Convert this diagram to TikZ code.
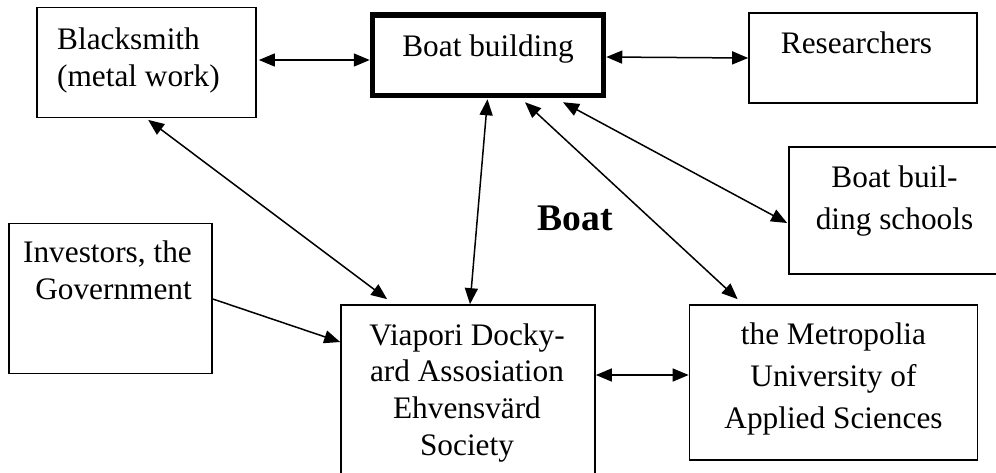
\documentclass[tikz,border=0pt]{standalone}
\usepackage{fontspec}
\setmainfont{Liberation Serif}
\usetikzlibrary{arrows.meta,calc}
\begin{document}
\begin{tikzpicture}[x=1pt,y=-1pt,
  box/.style={draw, rectangle, inner sep=0pt, line width=1.7pt},
  thickbox/.style={box, line width=5.5pt},
  txt/.style={inner sep=0pt, font=\fontsize{31.3}{#1}\selectfont},
  txt/.default=36.7,
  link/.style={line width=1.5pt, {Triangle[length=16pt,width=13pt]}-{Triangle[length=16pt,width=13pt]}},
  oneway/.style={line width=1.5pt, -{Triangle[length=16pt,width=13pt]}}]
\useasboundingbox (0,0) rectangle (996,472);
\clip (0,0) rectangle (996,472);

% boxes
\node[box, minimum width=219pt, minimum height=110pt] (black) at (146.5,62.5) {};
\node[thickbox, minimum width=231pt, minimum height=80.5pt] (bb) at (488,55.25) {};
\node[box, minimum width=228pt, minimum height=90pt] (res) at (863,58) {};
\node[box, minimum width=222pt, minimum height=127pt] (sch) at (900,210.5) {};
\node[box, minimum width=203pt, minimum height=150pt] (inv) at (110.5,298.5) {};
\node[box, minimum width=254pt, minimum height=190pt] (via) at (468,400) {};
\node[box, minimum width=288pt, minimum height=155pt] (met) at (833.5,382.5) {};

% connectors
\draw[link] ($(black.east |- 0,60)+(2,0)$) -- (bb.west |- 0,60);
\draw[link] (bb.east |- 0,57) -- (res.west |- 0,58);
\draw[link] ($(black.south west)+(112,1.5)$) -- ($(via.north west)+(47,-5)$);
\draw[link] ($(bb.south)+(-0.5,1)$) -- ($(via.north)+(2,0)$);
\draw[link] ($(bb.south)+(37,4)$) -- ($(met.north west)+(49,-5)$);
\draw[link] ($(bb.south)+(75,4)$) -- ($(sch.west |- 0,223)+(-1,0)$);
\draw[oneway] (inv.east |- 0,299) -- (via.west |- 0,342);
\draw[link] (via.east |- 0,375) -- (met.west |- 0,375);

% texts
\node[txt, anchor=base west] (tblack) at (57,49.3)
  {\begin{tabular}[t]{@{}l@{}}Blacksmith\\(metal work)\end{tabular}};
\node[txt, anchor=base] (tbb) at (488,56) {Boat building};
\node[txt, anchor=base] (tres) at (856.5,53.3) {Researchers};
\node[txt=42, anchor=base] (tsch) at (894.5,187)
  {\begin{tabular}[t]{@{}c@{}}Boat buil-\\ding schools\end{tabular}};
\node[txt=37, anchor=base east] (tinv) at (192,262)
  {\begin{tabular}[t]{@{}r@{}}Investors, the\\Government\end{tabular}};
\node[txt, anchor=base] (tvia) at (467,345)
  {\begin{tabular}[t]{@{}c@{}}Viapori Docky-\\ard Assosiation\\Ehvensvärd\\Society\end{tabular}};
\node[txt=42, anchor=base] (tmet) at (833.5,344)
  {\begin{tabular}[t]{@{}c@{}}the Metropolia\\University of\\Applied Sciences\end{tabular}};
\node[inner sep=0pt, anchor=base, font=\fontsize{37.6}{44}\selectfont\bfseries] (tboat) at (575.5,230) {Boat};
\end{tikzpicture}
\end{document}
